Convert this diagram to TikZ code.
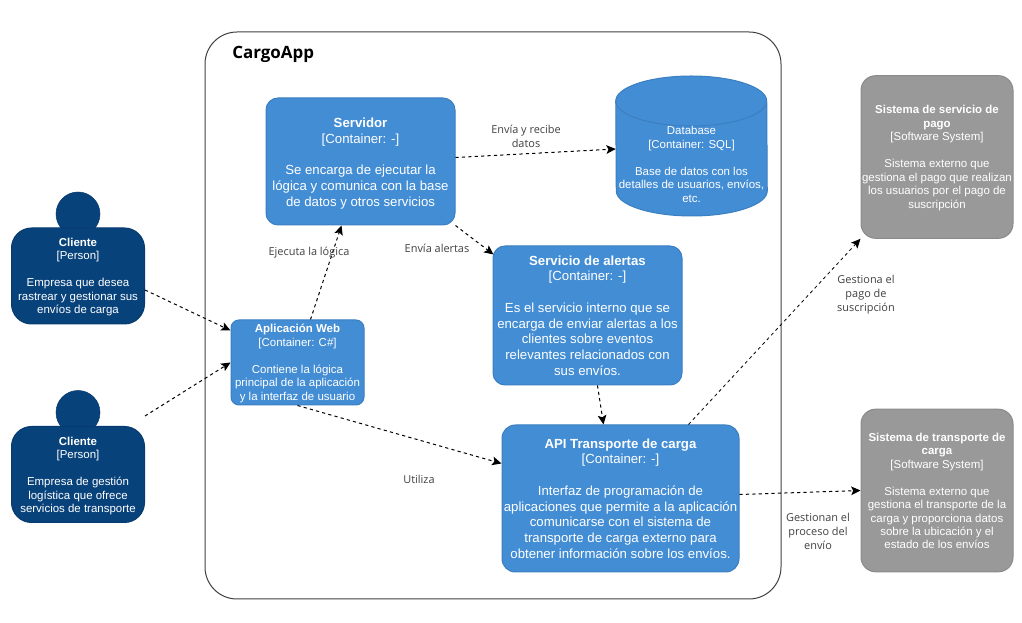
\documentclass[tikz,border=0pt]{standalone}
\usepackage{fontspec}
\setmainfont{Liberation Sans}
\newfontfamily\labelfont{Open Sans}
\usetikzlibrary{arrows.meta,calc}
\definecolor{cContainer}{HTML}{438DD5}
\definecolor{cContainerLine}{HTML}{3C7FC0}
\definecolor{cPerson}{HTML}{08427B}
\definecolor{cPersonLine}{HTML}{073B6F}
\definecolor{cSystem}{HTML}{999999}
\definecolor{cSystemLine}{HTML}{8A8A8A}
\definecolor{cLabel}{HTML}{404040}
\newcommand{\toppad}[1]{\rule{0pt}{#1pt}}
\tikzset{
  boxbase/.style={rectangle,align=center,text=white,inner sep=0pt,line width=0.75pt},
  bigtext/.style={font=\fontsize{9.9}{11.8}\selectfont},
  smalltext/.style={font=\fontsize{8.6}{10.1}\selectfont},
  containerbox/.style={boxbase,bigtext,draw=cContainerLine,fill=cContainer},
  personbox/.style={boxbase,smalltext,draw=cPersonLine,fill=cPerson,rounded corners=15pt,
    minimum width=99.75pt,minimum height=72pt},
  personhead/.style={circle,draw=cPersonLine,fill=cPerson,inner sep=0pt,minimum size=33pt},
  systembox/.style={boxbase,smalltext,draw=cSystemLine,fill=cSystem,rounded corners=11pt,
    minimum width=114pt,minimum height=122pt},
  relation/.style={black,line width=0.75pt,dash pattern=on 2.4pt off 2.4pt,-{Stealth[length=7pt,width=6.5pt,inset=1.5pt]}},
  relationlabel/.style={align=center,text=cLabel,inner sep=0pt,
    font=\labelfont\fontsize{8.2}{10.5}\selectfont}
}
\begin{document}
\begin{tikzpicture}[x=0.75pt,y=-0.75pt]
\useasboundingbox (0,0) rectangle (1022,623);

% boundary
\node[draw=black!75,line width=0.75pt,rounded corners=24pt,minimum width=432pt,minimum height=425.25pt,inner sep=0pt] (cargoApp) at (493,315.5) {};
\node[font=\labelfont\bfseries\fontsize{12.7}{15}\selectfont,anchor=west,inner sep=0pt] (cargoTitle) at (232,54) {CargoApp};

% people
\node[personhead] (clienteAHead) at (78,214) {};
\node[personbox] (clienteA) at (78,276)
  {\toppad{7.8}\textbf{Cliente}\\{[Person]}\\[\baselineskip]Empresa que desea\\rastrear y gestionar sus\\envíos de carga};
\node[personhead] (clienteBHead) at (78,412.5) {};
\node[personbox] (clienteB) at (78,474.5)
  {\toppad{8.5}\textbf{Cliente}\\{[Person]}\\[\baselineskip]Empresa de gestión\\logística que ofrece\\servicios de transporte};

% containers
\node[containerbox,rounded corners=9pt,minimum width=141.75pt,minimum height=95.25pt] (servidor) at (360.5,161.5)
  {\toppad{10.1}\textbf{Servidor}\\{[Container: -]}\\[\baselineskip]Se encarga de ejecutar la\\lógica y comunica con la base\\de datos y otros servicios};
\node[containerbox,rounded corners=9pt,minimum width=141.75pt,minimum height=104.25pt] (alertas) at (587.5,315.5)
  {\textbf{Servicio de alertas}\\{[Container: -]}\\[\baselineskip]Es el servicio interno que se\\encarga de enviar alertas a los\\clientes sobre eventos\\relevantes relacionados con\\sus envíos.};
\node[containerbox,smalltext,rounded corners=6pt,minimum width=99.75pt,minimum height=63.75pt] (appWeb) at (297.5,362.5)
  {\toppad{7.8}\textbf{Aplicación Web}\\{[Container: C\#]}\\[\baselineskip]Contiene la lógica\\principal de la aplicación\\y la interfaz de usuario};
\node[containerbox,rounded corners=10pt,minimum width=177.75pt,minimum height=110.25pt] (apiCarga) at (620.5,498.5)
  {\textbf{API Transporte de carga}\\{[Container: -]}\\[\baselineskip]Interfaz de programación de\\aplicaciones que permite a la aplicación\\comunicarse con el sistema de\\transporte de carga externo para\\obtener información sobre los envíos.};

% database
\node[minimum width=113.25pt,minimum height=105pt,inner sep=0pt] (database) at (691.5,146) {};
\draw[cContainerLine,fill=cContainer,line width=0.75pt] ($(database.west)+(0,-45)$) arc[start angle=180,end angle=0,x radius=56.625pt,y radius=18.75pt]
  -- ($(database.east)+(0,45)$) arc[start angle=0,end angle=-180,x radius=56.625pt,y radius=18.75pt] -- cycle;
\draw[cContainerLine,line width=0.75pt] ($(database.west)+(0,-45)$) arc[start angle=180,end angle=360,x radius=56.625pt,y radius=18.75pt];
\node[boxbase,smalltext] (databaseText) at (691.5,164.5)
  {Database\\{[Container: SQL]}\\[\baselineskip]Base de datos con los\\detalles de usuarios, envíos,\\etc.};

% external systems
\node[systembox] (sistemaPago) at (937,157)
  {\toppad{7.8}\textbf{Sistema de servicio de}\\\textbf{pago}\\{[Software System]}\\[\baselineskip]Sistema externo que\\gestiona el pago que realizan\\los usuarios por el pago de\\suscripción};
\node[systembox] (sistemaCarga) at (937,490.5)
  {\toppad{7}\textbf{Sistema de transporte de}\\\textbf{carga}\\{[Software System]}\\[\baselineskip]Sistema externo que\\gestiona el transporte de la\\carga y proporciona datos\\sobre la ubicación y el\\estado de los envíos};

% relations
\draw[relation] ($(clienteA.east)+(0,14)$) -- ($(appWeb.west)+(0,-32)$);
\draw[relation] ($(clienteB.north east)+(0,-10)$) -- ($(appWeb.west)+(0,0)$);
\draw[relation] ($(appWeb.north)+(13,0)$) -- ($(servidor.south)+(-19,0)$);
\draw[relation] (appWeb.south) -- ($(apiCarga.west)+(0,-35)$);
\draw[relation] ($(servidor.east)+(0,-4)$) -- ($(database.west)+(0,3)$);
\draw[relation] (servidor.south east) -- ($(alertas.north west)+(1,9)$);
\draw[relation] ($(alertas.south)+(10,0)$) -- ($(apiCarga.north)+(-17,0)$);
\draw[relation,line width=0.6pt] ($(apiCarga.north)+(68,0)$) -- (sistemaPago.south west);
\draw[relation] ($(apiCarga.east)+(0,-4)$) -- (sistemaCarga.west);

% relation labels
\foreach \v/\x/\y/\t in
{   labelDatos/526/136.5/Envía y recibe\\datos,
    labelLogica/309/253/Ejecuta la lógica,
    labelAlertas/437/248/Envía alertas,
    labelUtiliza/419/479/Utiliza,
    labelPago/866/295/Gestiona el\\pago de\\suscripción,
    labelEnvio/818/531/Gestionan el\\proceso del\\envío
}
{
    \node[relationlabel] (\v) at (\x,\y) {\t};
};

\end{tikzpicture}
\end{document}
